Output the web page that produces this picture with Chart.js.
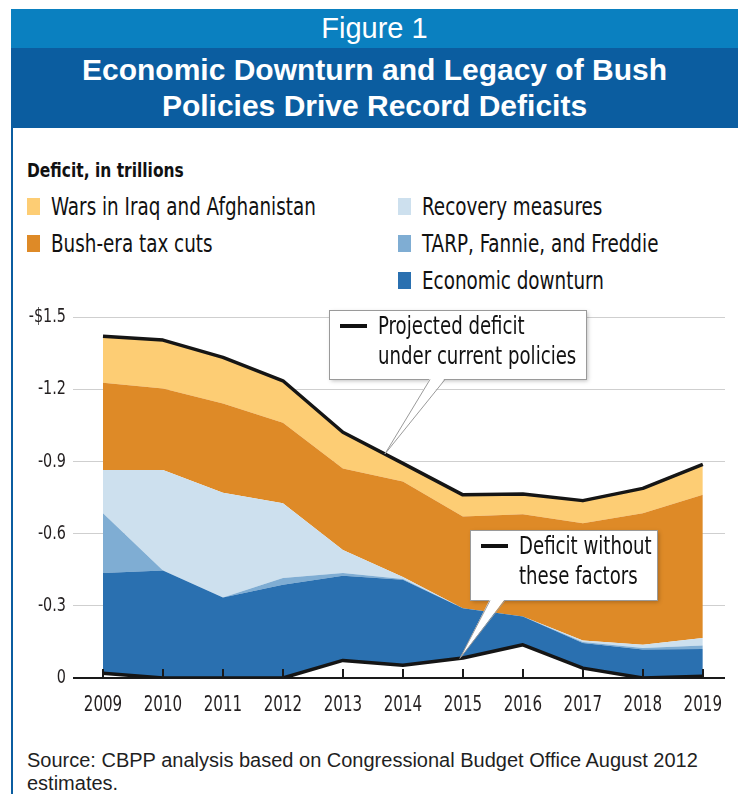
<!DOCTYPE html>
<html lang="en">
<head>
<meta charset="utf-8">
<title>Figure 1</title>
<script src="https://cdn.jsdelivr.net/npm/chart.js@4.4.1/dist/chart.umd.min.js"></script>
<style>
    body {
        margin: 0;
        width: 738px;
        height: 794px;
        position: relative;
        overflow: hidden;
        background: #ffffff;
        font-family: "Liberation Sans", Arial, sans-serif;
        color: #1f1f1f;
    }

    .faixa-figura {
        position: absolute;
        left: 11px;
        top: 9px;
        width: 727px;
        height: 39px;
        line-height: 39px;
        background: #0a80c0;
        color: #ffffff;
        font-size: 29px;
        text-align: center;
    }

    .faixa-titulo {
        position: absolute;
        left: 11px;
        top: 48px;
        width: 727px;
        height: 80px;
        box-sizing: border-box;
        padding-top: 4px;
        background: #0b5da0;
        color: #ffffff;
        font-size: 30px;
        font-weight: bold;
        line-height: 36px;
        text-align: center;
    }

    .margem {
        position: absolute;
        left: 11px;
        top: 128px;
        width: 2px;
        bottom: 0;
        background: #0b5da0;
    }

    .estreita {
        font-family: "DejaVu Sans Condensed", "DejaVu Sans", sans-serif;
        display: inline-block;
        transform-origin: 0 50%;
        white-space: nowrap;
    }

    .unidade {
        position: absolute;
        left: 27px;
        top: 158px;
        font-size: 20px;
        font-weight: bold;
        line-height: 24px;
        color: #111111;
        transform: scaleX(0.86);
    }

    .legenda-item {
        position: absolute;
        height: 26px;
        line-height: 26px;
        font-size: 24px;
        color: #111111;
    }

    .legenda-item span {
        position: absolute;
        left: 0;
        top: 4px;
        width: 13px;
        height: 17px;
    }

    .legenda-item b {
        font-weight: normal;
        position: absolute;
        left: 24px;
        top: 0;
        transform: scaleX(0.85);
    }

    #grafico {
        position: absolute;
        left: 0;
        top: 290px;
    }

    .fonte {
        position: absolute;
        left: 27px;
        top: 749px;
        font-size: 20px;
        line-height: 23px;
        color: #1f1f1f;
    }
</style>
</head>
<body>
    <div class="faixa-figura">Figure 1</div>
    <div class="faixa-titulo">Economic Downturn and Legacy of Bush<br>Policies Drive Record Deficits</div>
    <div class="margem"></div>

    <div class="unidade estreita">Deficit, in trillions</div>
    <div id="legenda"></div>

    <canvas id="grafico" width="738" height="440"></canvas>

    <div class="fonte">Source: CBPP analysis based on Congressional Budget Office August 2012<br>estimates.</div>

<script>
/* Anos e componentes do défice (biliões de dólares, valores positivos = défice) */
const anos = [2009, 2010, 2011, 2012, 2013, 2014, 2015, 2016, 2017, 2018, 2019];
const semFatores = [0.02, 0, 0, 0, 0.073, 0.053, 0.083, 0.138, 0.041, 0, 0.007];
const recessao = [0.416, 0.447, 0.335, 0.387, 0.352, 0.355, 0.207, 0.118, 0.104, 0.118, 0.113];
const tarp = [0.249, 0, 0, 0.028, 0.011, 0.003, 0, 0, 0.005, 0.007, 0.015];
const recuperacao = [0.179, 0.417, 0.435, 0.311, 0.096, 0.009, 0, 0, 0.006, 0.013, 0.031];
const cortesBush = [0.363, 0.339, 0.371, 0.335, 0.339, 0.396, 0.381, 0.424, 0.487, 0.547, 0.595];
const guerras = [0.193, 0.201, 0.191, 0.174, 0.15, 0.076, 0.09, 0.085, 0.094, 0.103, 0.127];

const ticksY = [0, 0.3, 0.6, 0.9, 1.2, 1.5];

const FONTE_ESTREITA = '"DejaVu Sans Condensed", "DejaVu Sans", sans-serif';
const TOPO_CANVAS = 290;

/* Fator de compressão horizontal do texto desenhado no canvas */
let compressao = 0.8;

/* Défice total projetado = soma de todas as camadas */
const totalProjetado = anos.map(function (ano, i) {
    return semFatores[i] + recessao[i] + tarp[i] + recuperacao[i] + cortesBush[i] + guerras[i];
});

/* Legenda em duas colunas */
const itensLegenda = [
    { texto: 'Wars in Iraq and Afghanistan', cor: '#fdcd74', x: 27, y: 194 },
    { texto: 'Bush-era tax cuts', cor: '#de8a27', x: 27, y: 231 },
    { texto: 'Recovery measures', cor: '#cde0ee', x: 398, y: 194 },
    { texto: 'TARP, Fannie, and Freddie', cor: '#7fadd3', x: 398, y: 231 },
    { texto: 'Economic downturn', cor: '#2a70b0', x: 398, y: 268 }
];

function criarLegenda() {
    const legenda = document.getElementById('legenda');

    itensLegenda.forEach(function (item) {
        const div = document.createElement('div');
        div.className = 'legenda-item';
        div.style.left = item.x + 'px';
        div.style.top = item.y + 'px';
        div.innerHTML = '<span style="background:' + item.cor + '"></span><b class="estreita">' + item.texto + '</b>';
        legenda.appendChild(div);
    });
}

function pontos(valores) {
    return anos.map(function (ano, i) {
        return { x: ano, y: valores[i] };
    });
}

/* Valor interpolado de uma série num ano fracionário */
function valorEm(serie, ano) {
    const i = Math.min(Math.floor(ano - anos[0]), anos.length - 2);
    const t = ano - anos[i];
    return serie[i] + (serie[i + 1] - serie[i]) * t;
}

/* Caixas de anotação com a seta que aponta para a linha */
const anotacoes = [
    {
        linhas: ['Projected deficit', 'under current policies'],
        caixa: { x: 329, y: 310, w: 257, h: 69 },
        base: [430, 445],
        ano: 2013.7,
        serie: totalProjetado
    },
    {
        linhas: ['Deficit without', 'these factors'],
        caixa: { x: 470, y: 530, w: 187, h: 70 },
        base: [490, 505],
        ano: 2014.95,
        serie: semFatores
    }
];

/* Pequenos traços verticais sobre o eixo zero em cada ano */
const pluginTracos = {
    id: 'tracosAnos',
    afterDatasetsDraw: function (chart) {
        const ctx = chart.ctx;
        const escalaX = chart.scales.x;
        const fundo = chart.chartArea.bottom;

        ctx.save();
        ctx.strokeStyle = '#1a1a1a';
        ctx.lineWidth = 2;
        anos.forEach(function (ano) {
            const x = Math.round(escalaX.getPixelForValue(ano));
            ctx.beginPath();
            ctx.moveTo(x, fundo);
            ctx.lineTo(x, fundo - 9);
            ctx.stroke();
        });
        ctx.restore();
    }
};

const pluginAnotacoes = {
    id: 'anotacoes',
    afterDatasetsDraw: function (chart) {
        const ctx = chart.ctx;
        const escalaX = chart.scales.x;
        const escalaY = chart.scales.y;

        anotacoes.forEach(function (a) {
            const bx = a.caixa.x;
            const by = a.caixa.y - TOPO_CANVAS;
            const fundoCaixa = by + a.caixa.h;
            const pontaX = escalaX.getPixelForValue(a.ano);
            const pontaY = escalaY.getPixelForValue(valorEm(a.serie, a.ano));

            ctx.save();

            ctx.shadowColor = 'rgba(0, 0, 0, 0.25)';
            ctx.shadowBlur = 4;
            ctx.shadowOffsetX = 2;
            ctx.shadowOffsetY = 2;
            ctx.fillStyle = '#ffffff';
            ctx.fillRect(bx, by, a.caixa.w, a.caixa.h);
            ctx.shadowColor = 'transparent';

            ctx.strokeStyle = '#9a9a9a';
            ctx.lineWidth = 1;
            ctx.strokeRect(bx + 0.5, by + 0.5, a.caixa.w, a.caixa.h);

            ctx.beginPath();
            ctx.moveTo(a.base[0], fundoCaixa - 1);
            ctx.lineTo(pontaX, pontaY);
            ctx.lineTo(a.base[1], fundoCaixa - 1);
            ctx.closePath();
            ctx.fillStyle = '#ffffff';
            ctx.fill();

            ctx.beginPath();
            ctx.moveTo(a.base[0], fundoCaixa + 0.5);
            ctx.lineTo(pontaX, pontaY);
            ctx.lineTo(a.base[1], fundoCaixa + 0.5);
            ctx.strokeStyle = '#9a9a9a';
            ctx.stroke();

            ctx.strokeStyle = '#111111';
            ctx.lineWidth = 4;
            ctx.beginPath();
            ctx.moveTo(bx + 11, by + 16);
            ctx.lineTo(bx + 38, by + 16);
            ctx.stroke();

            ctx.fillStyle = '#111111';
            ctx.font = '24px ' + FONTE_ESTREITA;
            ctx.textBaseline = 'middle';
            ctx.textAlign = 'left';
            compressao = 0.84;
            a.linhas.forEach(function (linha, n) {
                ctx.fillText(linha, bx + 49, by + 18 + n * 30);
            });
            compressao = 0.8;

            ctx.restore();
        });
    }
};

/* Gráfico de áreas empilhadas */
function criarGraficoDefice() {
    const canvas = document.getElementById('grafico');
    const contexto = canvas.getContext('2d');

    /* O texto do canvas é comprimido na horizontal (letra estreita) */
    const fillTextOriginal = contexto.fillText;
    contexto.fillText = function (texto, x, y, larguraMax) {
        const largura = this.measureText(texto).width * compressao;
        const limite = larguraMax === undefined ? largura : Math.min(larguraMax, largura);
        fillTextOriginal.call(this, texto, x, y, limite);
    };

    const camadas = [
        { label: 'Deficit without these factors', data: semFatores, cor: 'rgba(0,0,0,0)', fill: false, linha: true },
        { label: 'Economic downturn', data: recessao, cor: '#2a70b0', fill: '-1' },
        { label: 'TARP, Fannie, and Freddie', data: tarp, cor: '#7fadd3', fill: '-1' },
        { label: 'Recovery measures', data: recuperacao, cor: '#cde0ee', fill: '-1' },
        { label: 'Bush-era tax cuts', data: cortesBush, cor: '#de8a27', fill: '-1' },
        { label: 'Wars in Iraq and Afghanistan', data: guerras, cor: '#fdcd74', fill: '-1', linha: true }
    ];

    new Chart(contexto, {
        type: 'line',
        data: {
            datasets: camadas.map(function (c) {
                return {
                    label: c.label,
                    data: pontos(c.data),
                    backgroundColor: c.cor,
                    borderColor: c.linha ? '#151515' : 'rgba(0,0,0,0)',
                    borderWidth: c.linha ? 3.5 : 0,
                    fill: c.fill,
                    pointRadius: 0,
                    tension: 0,
                    borderJoinStyle: 'round'
                };
            })
        },
        options: {
            responsive: false,
            animation: false,
            layout: {
                padding: { left: 0, right: 13, top: 27, bottom: 0 }
            },
            plugins: {
                legend: { display: false },
                tooltip: { enabled: false }
            },
            scales: {
                x: {
                    type: 'linear',
                    min: 2008.5,
                    max: 2019.37,
                    afterBuildTicks: function (escala) {
                        escala.ticks = anos.map(function (ano) { return { value: ano }; });
                    },
                    afterFit: function (escala) {
                        escala.height = 52;
                    },
                    grid: { display: false },
                    border: { display: false },
                    ticks: {
                        padding: 7,
                        color: '#231f20',
                        font: { family: FONTE_ESTREITA, size: 21 },
                        callback: function (valor) { return String(valor); },
                        maxRotation: 0
                    }
                },
                y: {
                    stacked: true,
                    min: 0,
                    max: 1.5,
                    afterBuildTicks: function (escala) {
                        escala.ticks = ticksY.map(function (v) { return { value: v }; });
                    },
                    afterFit: function (escala) {
                        escala.width = 73;
                    },
                    border: { display: false },
                    grid: {
                        drawTicks: false,
                        color: function (c) { return c.tick && c.tick.value === 0 ? '#1a1a1a' : '#cfcfcf'; },
                        lineWidth: function (c) { return c.tick && c.tick.value === 0 ? 2 : 1; }
                    },
                    ticks: {
                        padding: 7,
                        color: '#231f20',
                        font: { family: FONTE_ESTREITA, size: 20 },
                        callback: function (valor) {
                            if (valor === 0) return '0';
                            if (valor === 1.5) return '-$1.5';
                            return '-' + valor.toFixed(1);
                        }
                    }
                }
            }
        },
        plugins: [pluginTracos, pluginAnotacoes]
    });
}

document.addEventListener('DOMContentLoaded', function () {
    criarLegenda();
    criarGraficoDefice();
});
</script>
</body>
</html>
